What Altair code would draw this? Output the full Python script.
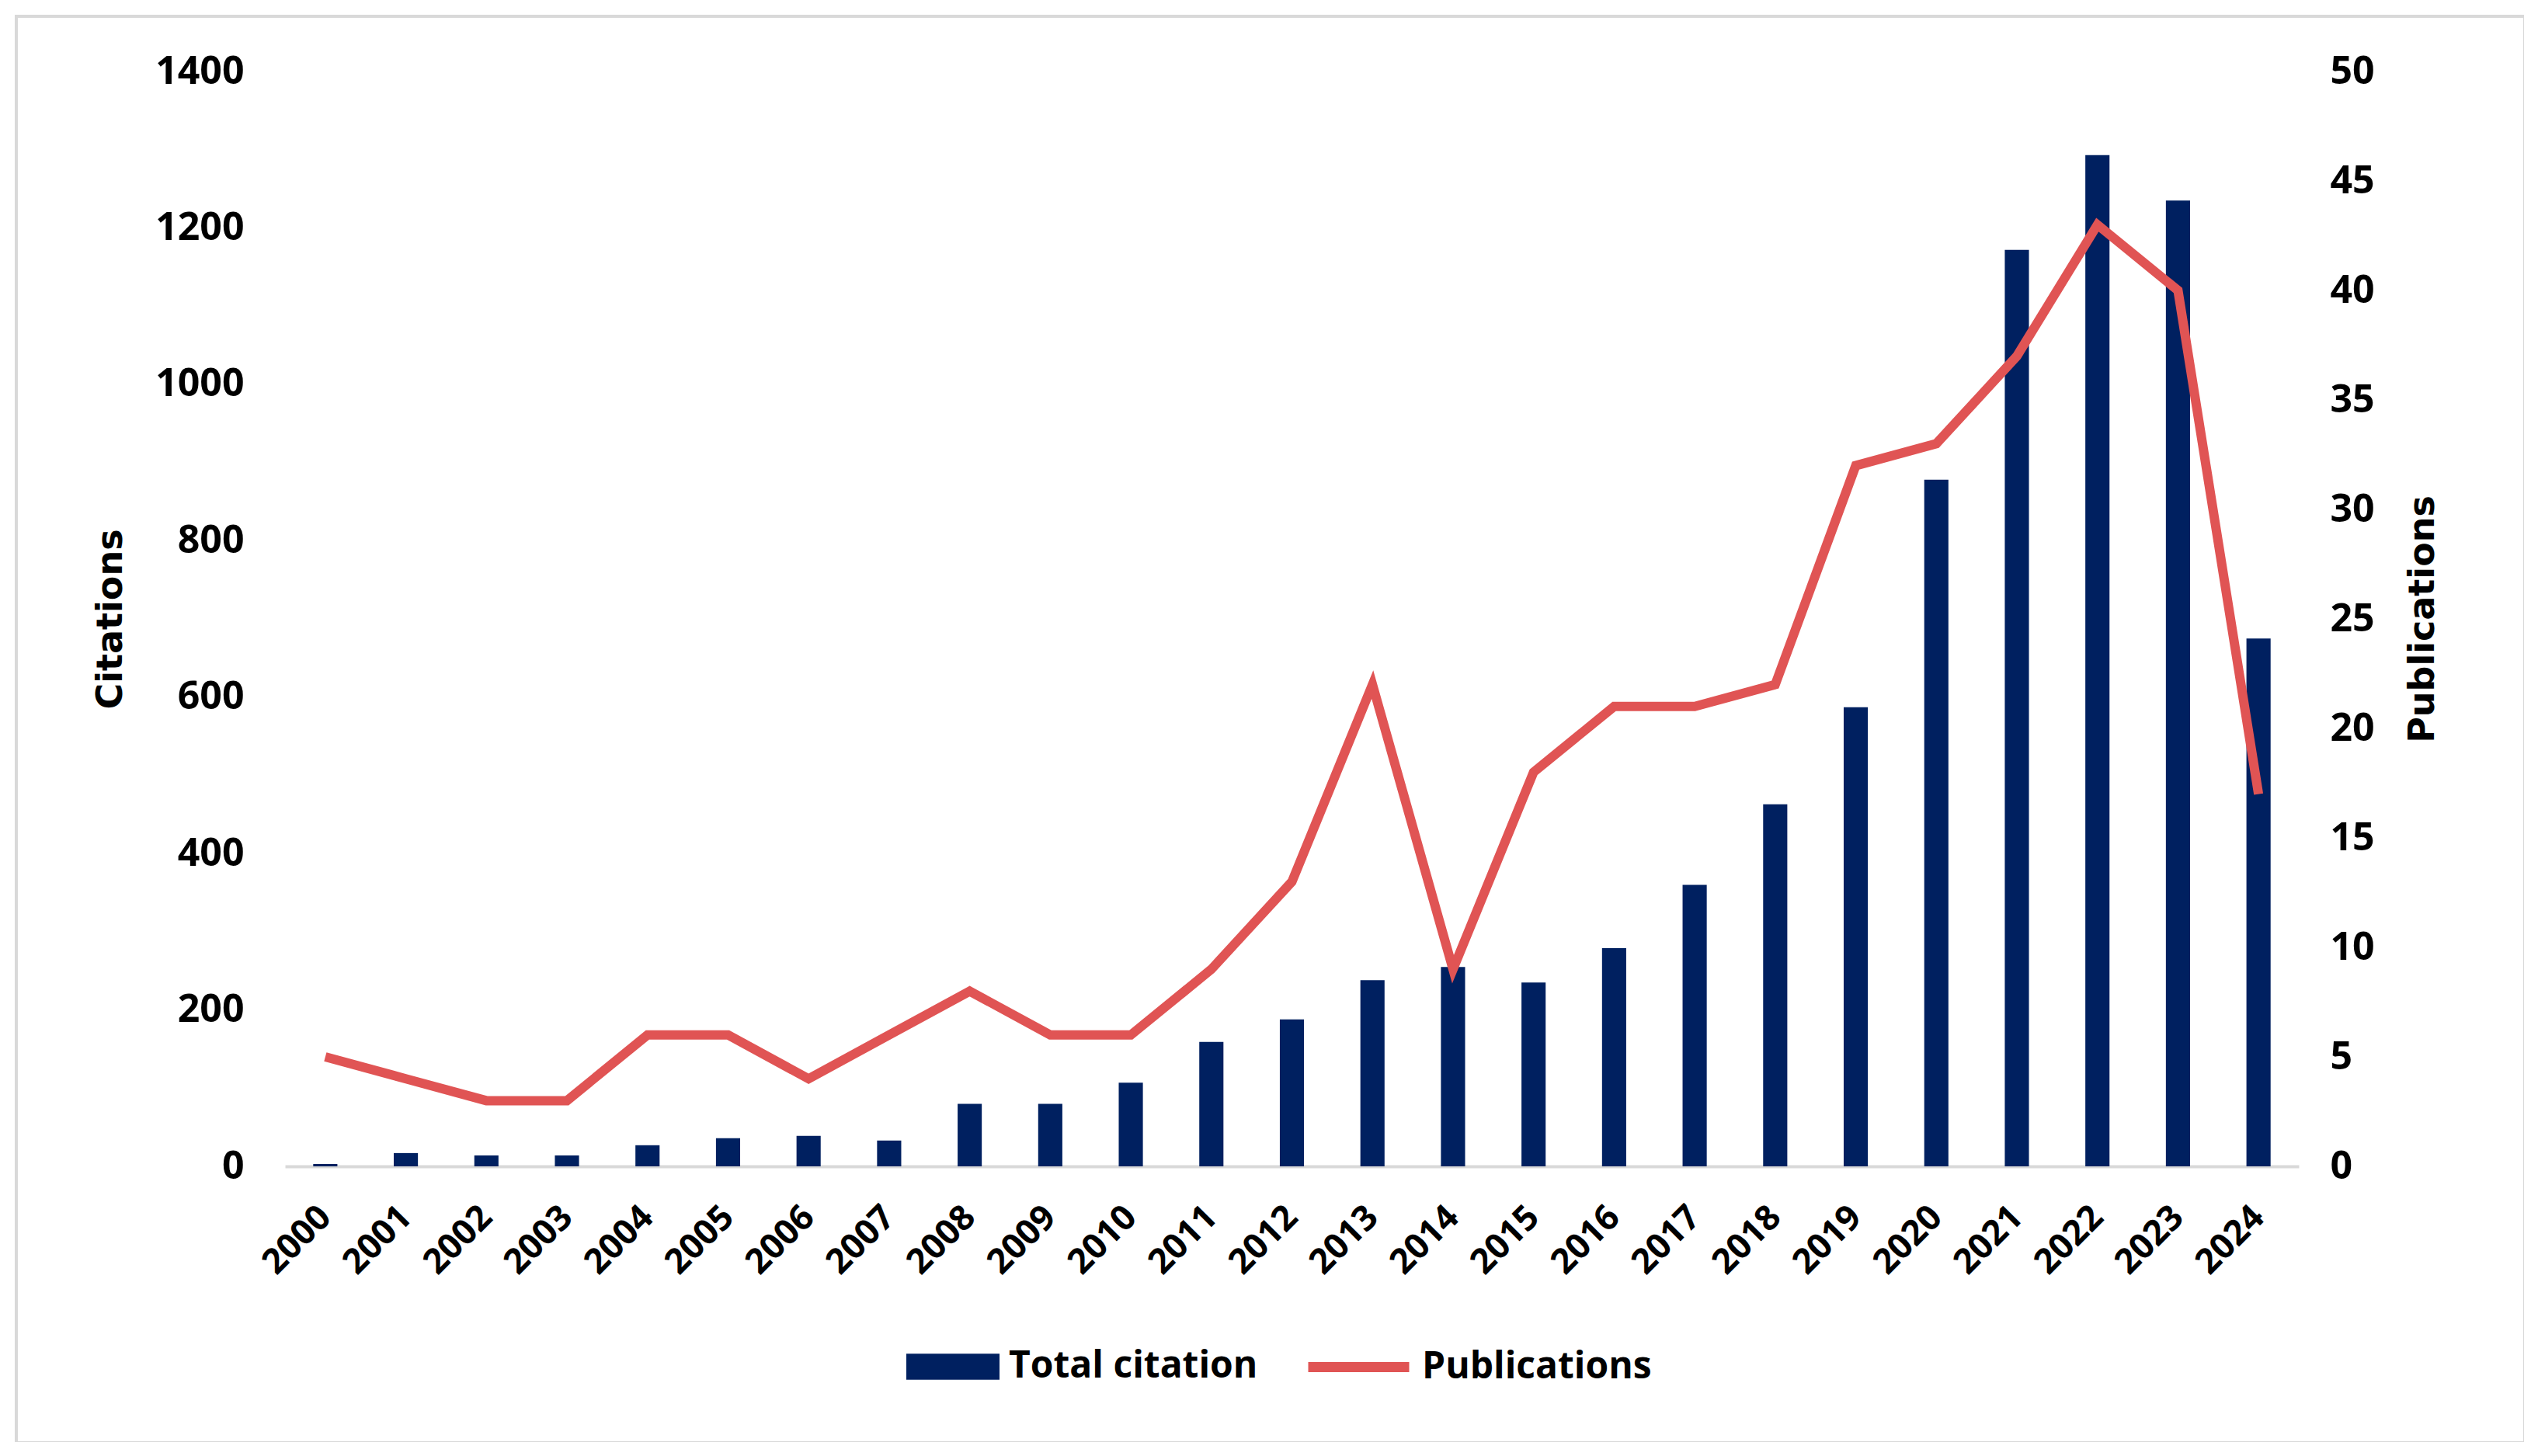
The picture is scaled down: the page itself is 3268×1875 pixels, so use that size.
import altair as alt
import pandas as pd

years = [str(y) for y in range(2000, 2025)]
citations = [3, 17, 14, 14, 27, 36, 39, 33, 80, 80, 107, 159, 188, 238, 255, 235, 279, 360, 463, 587, 878, 1172, 1293, 1235, 675]
publications = [5, 4, 3, 3, 6, 6, 4, 6, 8, 6, 6, 9, 13, 22, 9, 18, 21, 21, 22, 32, 33, 37, 43, 40, 17]

df = pd.DataFrame({
    "Year": years,
    "Citations": citations,
    "Publications": publications,
    "s1": ["Total citation"] * len(years),
    "s2": ["Publications"] * len(years),
})

NAVY = "#002060"
RED = "#E05454"
TICKFONT = "Open Sans"
TITLEFONT = "DejaVu Sans"

W, H = 2593, 1410

x_enc = alt.X("Year:O", scale=alt.Scale(paddingInner=0.7, paddingOuter=0.35),
              axis=alt.Axis(title=None, labelAngle=315, labelAlign="right", labelBaseline="middle",
                            labelPadding=58, ticks=False, domainColor="#D9D9D9", domainWidth=4,
                            labelFont=TICKFONT, labelFontSize=45, labelFontWeight="bold",
                            labelColor="black", grid=False))

bars = alt.Chart(df).mark_bar(color=NAVY).encode(
    x=x_enc,
    y=alt.Y("Citations:Q", scale=alt.Scale(domain=[0, 1400]),
            axis=alt.Axis(title="Citations", values=list(range(0, 1401, 200)), format="d", grid=False,
                          ticks=False, domain=False, labelPadding=53, labelFont=TICKFONT, labelFontSize=50,
                          labelFontWeight="bold", labelColor="black",
                          titleFont=TITLEFONT, titleFontSize=46, titleFontWeight="bold",
                          titleColor="black", titleAngle=270, titleX=-225, titleBaseline="middle")),
    color=alt.Color("s1:N", scale=alt.Scale(domain=["Total citation"], range=[NAVY]),
                    legend=alt.Legend(title=None, orient="none", legendX=800, legendY=1608,
                                      symbolType="M-1,-0.28L1,-0.28L1,0.28L-1,0.28Z",
                                      symbolSize=14400, symbolStrokeWidth=0, padding=0,
                                      labelOffset=12, labelFont=TICKFONT, labelFontSize=48,
                                      labelFontWeight="bold", labelColor="black", labelLimit=600)),
)

line = alt.Chart(df).mark_line(strokeWidth=12, strokeJoin="miter").encode(
    x=alt.X("Year:O"),
    y=alt.Y("Publications:Q", scale=alt.Scale(domain=[0, 50]),
            axis=alt.Axis(title="Publications", orient="right", values=list(range(0, 51, 5)), grid=False,
                          ticks=False, domain=False, labelPadding=40, labelFont=TICKFONT,
                          labelFontSize=50, labelFontWeight="bold", labelColor="black",
                          titleFont=TITLEFONT, titleFontSize=46, titleFontWeight="bold",
                          titleColor="black", titleAngle=270, titleX=159, titleBaseline="middle")),
    stroke=alt.Stroke("s2:N", scale=alt.Scale(domain=["Publications"], range=[RED]),
                      legend=alt.Legend(title=None, orient="none", legendX=1311, legendY=1597,
                                        symbolType="stroke", symbolSize=16900, symbolStrokeWidth=13,
                                        padding=0, labelOffset=10, labelFont=TICKFONT,
                                        labelFontSize=48, labelFontWeight="bold", labelColor="black",
                                        labelLimit=600)),
)

frame = alt.Chart(pd.DataFrame({"a": [0]})).mark_rect(
    fill=None, stroke="#D9D9D9", strokeWidth=4, clip=False
).encode(x=alt.value(-346), x2=alt.value(2884), y=alt.value(-71), y2=alt.value(1766))

chart = alt.layer(bars, line, frame).resolve_scale(y="independent", color="independent").properties(
    width=W, height=H,
    autosize=alt.AutoSizeParams(type="none"),
    padding={"left": 359, "top": 84, "right": 290, "bottom": 355},
    background="white",
).configure_view(stroke=None)

chart.save("out.html", embed_options={"renderer": "svg", "actions": False})
